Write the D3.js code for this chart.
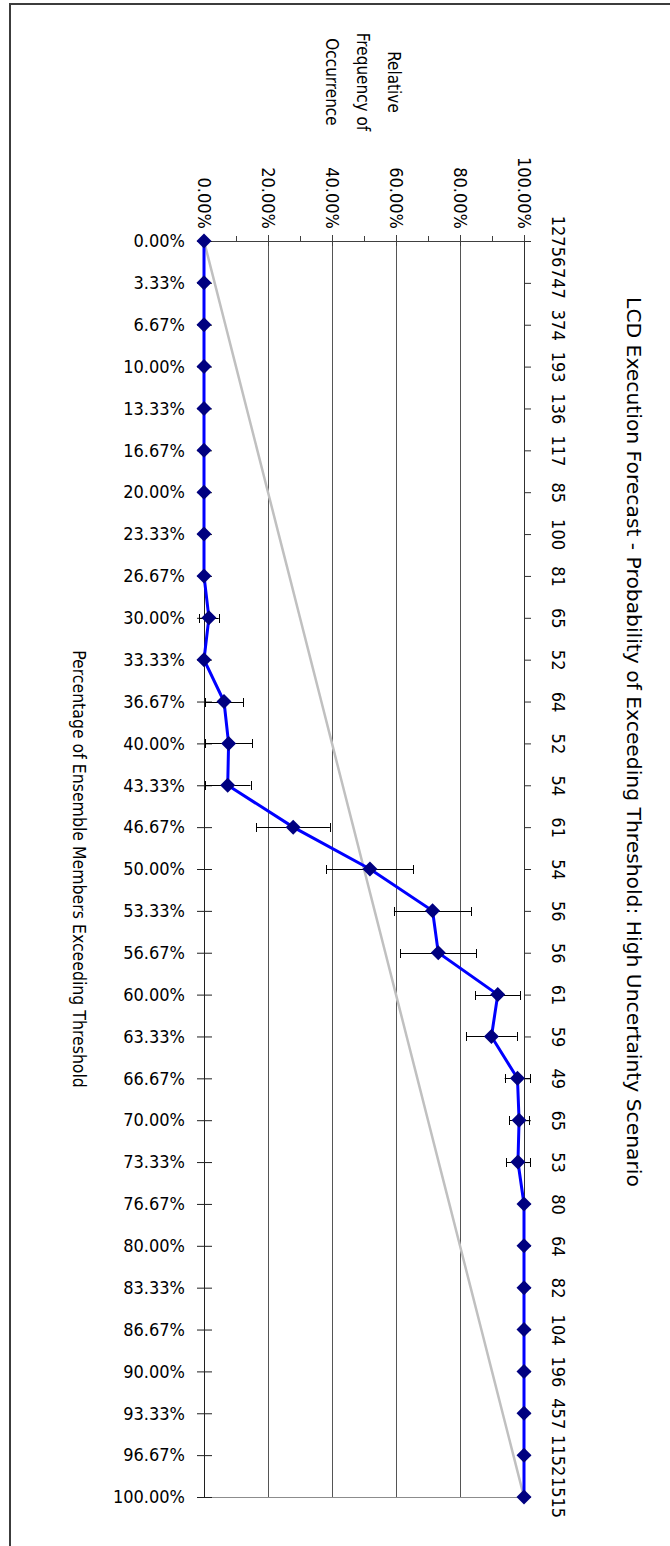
<!DOCTYPE html>
<html>
<head>
<meta charset="utf-8">
<script src="https://cdn.jsdelivr.net/npm/d3@7"></script>
<style>
  html, body { margin: 0; padding: 0; background: #fff; }
  svg { display: block; }
  text { font-family: "DejaVu Sans Condensed", "DejaVu Sans", sans-serif; fill: #000; }
</style>
</head>
<body>
<svg id="chart" width="670" height="1546"></svg>
<script>
// Forecast probability bins (share of ensemble members exceeding the threshold)
const binPct = [0, 3.33, 6.67, 10, 13.33, 16.67, 20, 23.33, 26.67, 30, 33.33, 36.67,
  40, 43.33, 46.67, 50, 53.33, 56.67, 60, 63.33, 66.67, 70, 73.33, 76.67, 80,
  83.33, 86.67, 90, 93.33, 96.67, 100];

// Observed relative frequency of occurrence per bin (%)
const observedPct = [0, 0, 0, 0, 0, 0, 0, 0, 0, 1.54, 0, 6.25,
  7.69, 7.41, 27.87, 51.85, 71.43, 73.21, 91.80, 89.83, 97.96, 98.46, 98.11, 100, 100,
  100, 100, 100, 100, 100, 100];

// Half-width of the error bar per bin (%)
const errorPct = [0, 0, 0, 0, 0, 0, 0, 0, 0, 3.06, 0, 6.05,
  7.39, 7.13, 11.48, 13.60, 12.07, 11.84, 7.03, 7.88, 4.00, 3.05, 3.74, 0, 0,
  0, 0, 0, 0, 0, 0];

// Number of cases in each bin
const binCounts = [12756, 747, 374, 193, 136, 117, 85, 100, 81, 65, 52, 64,
  52, 54, 61, 54, 56, 56, 61, 59, 49, 65, 53, 80, 64,
  82, 104, 196, 457, 1152, 1515];

// Value axis ticks
const majorTicks = [0, 20, 40, 60, 80, 100];
const minorTicks = [10, 30, 50, 70, 90];

const titleText = "LCD Execution Forecast - Probability of Exceeding Threshold: High Uncertainty Scenario";
const categoryTitle = "Percentage of Ensemble Members Exceeding Threshold";
const valueTitleLines = ["Relative", "Frequency of", "Occurrence"];

const fmtPct = v => v.toFixed(2) + "%";
const crisp = v => Math.round(v) + 0.5;

const svg = d3.select("#chart");

// Chart area frame
svg.append("rect")
  .attr("x", 10).attr("y", 4)
  .attr("width", 800).attr("height", 1700)
  .attr("fill", "#fff")
  .attr("stroke", "#3c3c3c")
  .attr("stroke-width", 2);

// The plot is laid on its side: values run left to right, bins run top to bottom
const x = d3.scaleLinear().domain([0, 100]).range([204, 524]);
const binLabels = binPct.map(fmtPct);
const y = d3.scalePoint().domain(binLabels).range([241, 1497]);

const rows = binLabels.map((lab, i) => ({
  lab, bin: binPct[i], obs: observedPct[i], err: errorPct[i], n: binCounts[i]
}));

// Gridlines
svg.append("g")
  .selectAll("line")
  .data(majorTicks.filter(d => d > 0))
  .join("line")
  .attr("x1", d => crisp(x(d))).attr("x2", d => crisp(x(d)))
  .attr("y1", y.range()[0]).attr("y2", y.range()[1])
  .attr("stroke", "#555")
  .attr("stroke-width", 1);

// Plot-area lower edge
svg.append("line")
  .attr("x1", x(0)).attr("x2", x(100))
  .attr("y1", crisp(y.range()[1])).attr("y2", crisp(y.range()[1]))
  .attr("stroke", "#8c8c8c")
  .attr("stroke-width", 1);

// Value axis (top)
const axTop = svg.append("g")
  .attr("transform", `translate(0,${y.range()[0]})`)
  .call(d3.axisTop(x).tickValues(majorTicks).tickSizeInner(6).tickSizeOuter(0)
    .tickPadding(12).tickFormat(fmtPct));
axTop.select(".domain").attr("stroke", "#404040");
axTop.selectAll(".tick line").attr("y2", -6).attr("y1", 5).attr("stroke", "#404040");
axTop.selectAll(".tick text")
  .attr("font-size", 18)
  .attr("font-family", null)
  .attr("x", 0).attr("y", 0).attr("dy", "0.35em")
  .attr("text-anchor", "end")
  .attr("transform", "translate(0,-12) rotate(90)");

const axTopMinor = svg.append("g")
  .attr("transform", `translate(0,${y.range()[0]})`)
  .call(d3.axisTop(x).tickValues(minorTicks).tickSizeInner(5).tickSizeOuter(0).tickFormat(""));
axTopMinor.select(".domain").remove();
axTopMinor.selectAll(".tick line").attr("stroke", "#404040");

// Category axis (left)
const axLeft = svg.append("g")
  .attr("transform", `translate(${x(0)},0)`)
  .call(d3.axisLeft(y).tickSizeInner(7).tickSizeOuter(0).tickPadding(12));
axLeft.select(".domain").attr("stroke", "#202020");
axLeft.selectAll(".tick line").attr("x1", 8).attr("stroke", "#202020");
axLeft.selectAll(".tick text")
  .attr("font-size", 18)
  .attr("font-family", null);

// Case counts axis (right)
const axRight = svg.append("g")
  .attr("transform", `translate(${x(100)},0)`)
  .call(d3.axisRight(y).tickSizeInner(7).tickSizeOuter(0)
    .tickFormat((d, i) => String(binCounts[i])));
axRight.select(".domain").attr("stroke", "#303030");
axRight.selectAll(".tick line").attr("stroke", "#303030");
axRight.selectAll(".tick text")
  .attr("font-size", 18)
  .attr("font-family", null)
  .attr("x", 0).attr("y", 0).attr("dy", "0.35em")
  .attr("text-anchor", "middle")
  .attr("transform", "translate(34,0) rotate(90)");

// Perfect reliability reference
const line = d3.line().x(d => x(d.v)).y(d => y(d.lab));
svg.append("path")
  .datum(rows.map(r => ({ lab: r.lab, v: r.bin })))
  .attr("d", line)
  .attr("fill", "none")
  .attr("stroke", "#c0c0c0")
  .attr("stroke-width", 2.5);

// Observed frequency series
svg.append("path")
  .datum(rows.map(r => ({ lab: r.lab, v: r.obs })))
  .attr("d", line)
  .attr("fill", "none")
  .attr("stroke", "#0000ff")
  .attr("stroke-width", 3);

// Error bars
const eb = svg.append("g").attr("stroke", "#000").attr("stroke-width", 1);
const withErr = rows.filter(r => r.err > 0);
eb.selectAll("line.bar").data(withErr).join("line").attr("class", "bar")
  .attr("x1", r => x(r.obs - r.err)).attr("x2", r => x(r.obs + r.err))
  .attr("y1", r => crisp(y(r.lab))).attr("y2", r => crisp(y(r.lab)));
eb.selectAll("line.capL").data(withErr).join("line").attr("class", "capL")
  .attr("x1", r => crisp(x(r.obs - r.err))).attr("x2", r => crisp(x(r.obs - r.err)))
  .attr("y1", r => Math.round(y(r.lab)) - 4).attr("y2", r => Math.round(y(r.lab)) + 5);
eb.selectAll("line.capR").data(withErr).join("line").attr("class", "capR")
  .attr("x1", r => crisp(x(r.obs + r.err))).attr("x2", r => crisp(x(r.obs + r.err)))
  .attr("y1", r => Math.round(y(r.lab)) - 4).attr("y2", r => Math.round(y(r.lab)) + 5);

// Diamond markers
const h = 7.5;
svg.append("g")
  .selectAll("path")
  .data(rows)
  .join("path")
  .attr("transform", r => `translate(${x(r.obs)},${y(r.lab)})`)
  .attr("d", `M0,${-h}L${h},0L0,${h}L${-h},0Z`)
  .attr("fill", "#000080");

// Titles
svg.append("text")
  .attr("transform", "translate(634,742) rotate(90)")
  .attr("text-anchor", "middle")
  .attr("dy", "0.35em")
  .style("font-family", "'DejaVu Sans', sans-serif")
  .attr("font-size", 20.3)
  .text(titleText);

svg.append("text")
  .attr("transform", `translate(79,${(y.range()[0] + y.range()[1]) / 2}) rotate(90)`)
  .attr("text-anchor", "middle")
  .attr("dy", "0.35em")
  .attr("font-size", 17.5)
  .text(categoryTitle);

const vt = svg.append("text")
  .attr("transform", "translate(363,82) rotate(90)")
  .attr("text-anchor", "middle")
  .attr("font-size", 17);
vt.selectAll("tspan")
  .data(valueTitleLines)
  .join("tspan")
  .attr("x", 0)
  .attr("y", (d, i) => (i - 1) * 31)
  .attr("dy", "0.35em")
  .text(d => d);
</script>
</body>
</html>
